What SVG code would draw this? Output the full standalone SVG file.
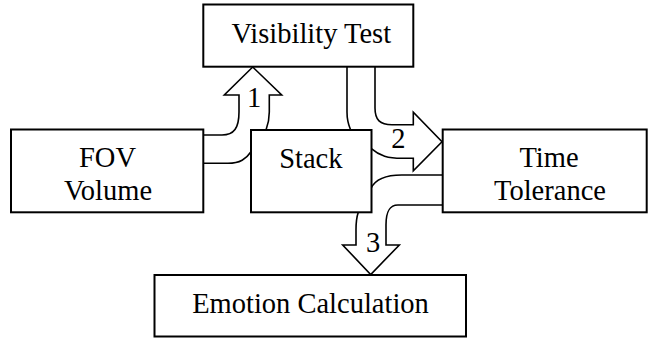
<svg xmlns="http://www.w3.org/2000/svg" width="648" height="339" viewBox="0 0 648 339">
<style>
.box{fill:#fff;stroke:#000;stroke-width:2}
.lbl{font-family:'Liberation Serif','DejaVu Serif',serif;font-size:28.5px;fill:#000;text-anchor:middle}
.con{fill:none;stroke:#000;stroke-width:1.6;stroke-linejoin:miter}
</style>
<rect width="648" height="339" fill="#fff"/>
<g id="connectors">
<path class="con" d="M203,135 L222,135 C234,135 239,128 239,112 L239,95 L224.3,95 L252.7,67 L281.7,95 L269.3,95 L269.3,112 C269.3,121 267.5,126 266,130"/>
<path class="con" d="M203,163.3 L228,163.3 C240,163.3 246,159 251,151.7"/>
<path class="con" d="M347,66.7 L347,112 C347,122 349,126 350.7,130"/>
<path class="con" d="M375,66.7 L375,108 C375,120 380,124.8 392,124.8 L413.3,124.8 L413.3,112.3 L442,141.7 L413.3,170.7 L413.3,158.3 L402,158.3 C388,158.3 380,156 371,148.3"/>
<path class="con" d="M442,175 L401.7,175 C385,175 375,180 371,188.3"/>
<path class="con" d="M442,205 L398,205 C389,205 386,212 386,225 L386,245 L399.3,245 L370.7,274.5 L342.7,245 L356,245 L356,230 C356,222 357,216 358.3,212.3"/>
<text class="lbl" font-family="Liberation Serif, DejaVu Serif, serif" x="254" y="106.7">1</text>
<text class="lbl" font-family="Liberation Serif, DejaVu Serif, serif" x="398.3" y="148.3">2</text>
<text class="lbl" font-family="Liberation Serif, DejaVu Serif, serif" x="373" y="251.7">3</text>
</g>
<g id="visibility">
<rect class="box" x="203.3" y="4.5" width="210" height="62.2"/>
<text class="lbl" font-family="Liberation Serif, DejaVu Serif, serif" x="311.3" y="43.3" font-size="29">Visibility Test</text>
</g>
<g id="fov">
<rect class="box" x="11" y="129.5" width="192.3" height="82.8"/>
<text class="lbl" font-family="Liberation Serif, DejaVu Serif, serif" x="107.5" y="166.7" font-size="28">FOV</text>
<text class="lbl" font-family="Liberation Serif, DejaVu Serif, serif" x="108" y="200" font-size="28">Volume</text>
</g>
<g id="stack">
<rect class="box" x="251" y="130" width="120.5" height="82.3"/>
<text class="lbl" font-family="Liberation Serif, DejaVu Serif, serif" x="310.8" y="167.7">Stack</text>
</g>
<g id="time">
<rect class="box" x="442.7" y="129.5" width="204" height="82.8"/>
<text class="lbl" font-family="Liberation Serif, DejaVu Serif, serif" x="549" y="166.7" font-size="28">Time</text>
<text class="lbl" font-family="Liberation Serif, DejaVu Serif, serif" x="550" y="200" font-size="28">Tolerance</text>
</g>
<g id="emotion">
<rect class="box" x="154.5" y="275" width="311.5" height="61.5"/>
<text class="lbl" font-family="Liberation Serif, DejaVu Serif, serif" x="310.5" y="313.3" font-size="29">Emotion Calculation</text>
</g>
</svg>
